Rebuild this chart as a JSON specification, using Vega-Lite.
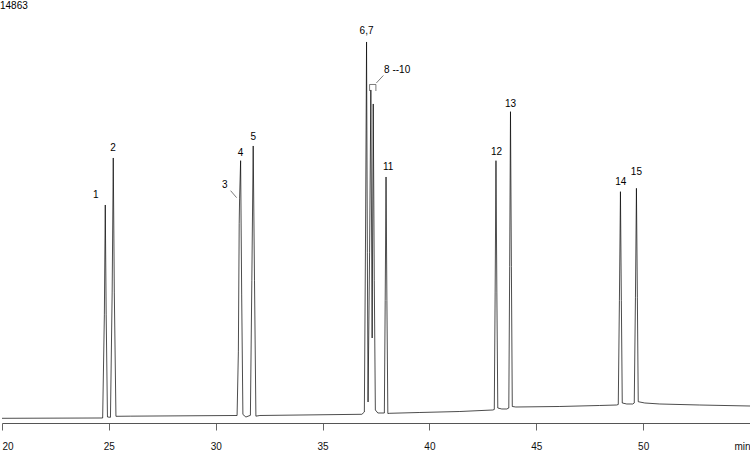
{
  "$schema": "https://vega.github.io/schema/vega-lite/v6.json",
  "width": 748,
  "height": 423,
  "autosize": {"type": "none"},
  "padding": {"left": 2, "top": 0, "right": 0, "bottom": 29},
  "background": "white",
  "config": {
    "view": {"stroke": null},
    "font": "Liberation Sans",
    "axis": {"grid": false}
  },
  "datasets": {
    "trace": [
      {"t": 20.0, "v": 165},
      {"t": 24.71, "v": 176},
      {"t": 24.79, "v": 3800},
      {"t": 24.832, "v": 7660},
      {"t": 24.875, "v": 3800},
      {"t": 24.935, "v": 211},
      {"t": 25.075, "v": 200},
      {"t": 25.155, "v": 4600},
      {"t": 25.206, "v": 9312},
      {"t": 25.255, "v": 4600},
      {"t": 25.332, "v": 235},
      {"t": 26.0, "v": 240},
      {"t": 31.0, "v": 264},
      {"t": 31.06, "v": 2500},
      {"t": 31.099, "v": 7000},
      {"t": 31.118, "v": 7900},
      {"t": 31.165, "v": 9217},
      {"t": 31.215, "v": 4500},
      {"t": 31.272, "v": 300},
      {"t": 31.413, "v": 210},
      {"t": 31.623, "v": 270},
      {"t": 31.69, "v": 5000},
      {"t": 31.754, "v": 9734},
      {"t": 31.815, "v": 5000},
      {"t": 31.88, "v": 240},
      {"t": 32.067, "v": 264},
      {"t": 36.838, "v": 306},
      {"t": 36.955, "v": 386},
      {"t": 37.01, "v": 6500},
      {"t": 37.058, "v": 13388},
      {"t": 37.095, "v": 6000},
      {"t": 37.128, "v": 738},
      {"t": 37.2, "v": 6000},
      {"t": 37.259, "v": 11702},
      {"t": 37.32, "v": 2987},
      {"t": 37.371, "v": 11210},
      {"t": 37.42, "v": 5000},
      {"t": 37.47, "v": 457},
      {"t": 37.587, "v": 351},
      {"t": 37.891, "v": 351},
      {"t": 37.93, "v": 4300},
      {"t": 37.97, "v": 8644},
      {"t": 38.01, "v": 4300},
      {"t": 38.054, "v": 334},
      {"t": 38.148, "v": 341},
      {"t": 39.55, "v": 369},
      {"t": 41.42, "v": 404},
      {"t": 42.965, "v": 457},
      {"t": 43.035, "v": 474},
      {"t": 43.075, "v": 4600},
      {"t": 43.114, "v": 9217},
      {"t": 43.155, "v": 4600},
      {"t": 43.199, "v": 527},
      {"t": 43.386, "v": 492},
      {"t": 43.62, "v": 492},
      {"t": 43.714, "v": 527},
      {"t": 43.755, "v": 5500},
      {"t": 43.793, "v": 10939},
      {"t": 43.835, "v": 5500},
      {"t": 43.877, "v": 580},
      {"t": 44.041, "v": 562},
      {"t": 46.1, "v": 580},
      {"t": 47.96, "v": 615},
      {"t": 48.756, "v": 632},
      {"t": 48.836, "v": 650},
      {"t": 48.89, "v": 4300},
      {"t": 48.938, "v": 8128},
      {"t": 48.98, "v": 4300},
      {"t": 49.023, "v": 703},
      {"t": 49.233, "v": 668},
      {"t": 49.514, "v": 668},
      {"t": 49.584, "v": 703},
      {"t": 49.64, "v": 4400},
      {"t": 49.686, "v": 8247},
      {"t": 49.73, "v": 4400},
      {"t": 49.771, "v": 748},
      {"t": 50.075, "v": 703},
      {"t": 50.776, "v": 668},
      {"t": 52.647, "v": 632},
      {"t": 55.0, "v": 597}
    ],
    "labels": [
      {"label": "1", "t": 24.39, "v": 8012},
      {"label": "2", "t": 25.2, "v": 9675},
      {"label": "3", "t": 30.43, "v": 8363},
      {"label": "4", "t": 31.165, "v": 9477},
      {"label": "5", "t": 31.754, "v": 10040},
      {"label": "6,7", "t": 37.058, "v": 13785},
      {"label": "8 --10", "t": 38.49, "v": 12404},
      {"label": "11", "t": 38.066, "v": 9007},
      {"label": "12", "t": 43.136, "v": 9534},
      {"label": "13", "t": 43.793, "v": 11210},
      {"label": "14", "t": 48.952, "v": 8479},
      {"label": "15", "t": 49.686, "v": 8809}
    ],
    "leaders": [
      {"t1": 30.697, "t2": 30.978, "v1": 8163, "v2": 7917},
      {"t1": 37.2, "t2": 37.495, "v1": 11895, "v2": 11895},
      {"t1": 37.2, "t2": 37.2, "v1": 11895, "v2": 11666},
      {"t1": 37.495, "t2": 37.495, "v1": 11895, "v2": 11666},
      {"t1": 37.517, "t2": 37.844, "v1": 11948, "v2": 12211}
    ]
  },
  "layer": [
    {
      "data": {"name": "trace"},
      "mark": {"type": "line", "color": "#000000", "strokeWidth": 0.7, "clip": true},
      "encoding": {
        "x": {
          "field": "t",
          "type": "quantitative",
          "scale": {"domain": [20, 55], "nice": false, "zero": false},
          "axis": {
            "values": [20, 25, 30, 35, 40, 45, 50, 55],
            "labelExpr": "datum.value == 55 ? 'min' : datum.label",
            "labelFlush": true,
            "labelFontSize": 10,
            "labelColor": "#111111",
            "labelPadding": 11,
            "tickSize": 7,
            "tickColor": "#666666",
            "domainColor": "#555555",
            "title": null
          }
        },
        "y": {
          "field": "v",
          "type": "quantitative",
          "scale": {"domain": [0, 14863], "nice": false},
          "axis": null
        }
      }
    },
    {
      "data": {"name": "leaders"},
      "mark": {"type": "rule", "color": "#222222", "strokeWidth": 0.6},
      "encoding": {
        "x": {"field": "t1", "type": "quantitative"},
        "x2": {"field": "t2"},
        "y": {"field": "v1", "type": "quantitative"},
        "y2": {"field": "v2"}
      }
    },
    {
      "data": {"name": "labels"},
      "mark": {"type": "text", "fontSize": 10, "color": "#000000", "baseline": "middle", "align": "center"},
      "encoding": {
        "x": {"field": "t", "type": "quantitative"},
        "y": {"field": "v", "type": "quantitative"},
        "text": {"field": "label"}
      }
    },
    {
      "data": {"values": [{"t": 20, "v": 14863, "label": "14863"}]},
      "mark": {"type": "text", "fontSize": 10, "color": "#000000", "baseline": "top", "align": "left", "dx": -2, "dy": 1},
      "encoding": {
        "x": {"field": "t", "type": "quantitative"},
        "y": {"field": "v", "type": "quantitative"},
        "text": {"field": "label"}
      }
    }
  ]
}
